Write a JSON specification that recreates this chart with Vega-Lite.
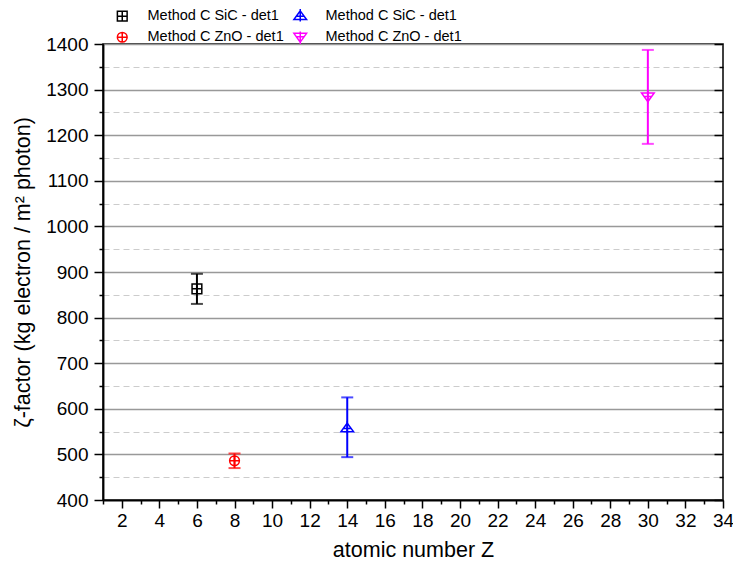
{
  "$schema": "https://vega.github.io/schema/vega-lite/v6.json",
  "width": 620,
  "height": 456,
  "autosize": "none",
  "padding": {"left": 103, "top": 44, "right": 10, "bottom": 70},
  "background": "white",
  "config": {
    "view": {"stroke": "black", "strokeWidth": 1.5},
    "font": "Liberation Sans",
    "axis": {"domainColor": "black", "domainWidth": 1.5, "tickColor": "black", "tickWidth": 1.5, "labelColor": "black", "titleColor": "black", "labelFont": "Liberation Sans", "titleFont": "Liberation Sans", "labelFontSize": 19, "titleFontSize": 21.5, "titleFontWeight": "normal", "labelOverlap": false, "labelFlush": false}
  },
  "data": {"values": [
    {"s": "k", "Z": 6, "zeta": 863, "lo": 830, "hi": 896},
    {"s": "r", "Z": 8, "zeta": 486, "lo": 470, "hi": 502},
    {"s": "b", "Z": 14, "zeta": 558, "lo": 494, "hi": 625},
    {"s": "m", "Z": 30, "zeta": 1284, "lo": 1181, "hi": 1387}
  ]},
  "resolve": {"axis": {"x": "independent", "y": "independent"}, "scale": {"color": "independent", "shape": "independent"}, "legend": {"color": "independent", "shape": "independent"}},
  "layer": [
    {
      "mark": {"type": "rule", "strokeWidth": 2},
      "encoding": {
        "x": {"field": "Z", "type": "quantitative", "scale": {"domain": [1, 34], "nice": false, "zero": false},
          "axis": {"orient": "bottom", "values": [1,3,5,7,9,11,13,15,17,19,21,23,25,27,29,31,33], "tickSize": 4, "labels": false, "grid": false, "title": null}},
        "y": {"field": "lo", "type": "quantitative", "scale": {"domain": [400, 1400], "nice": false, "zero": false},
          "axis": {"orient": "left", "values": [450,550,650,750,850,950,1050,1150,1250,1350], "tickSize": 4, "labels": false, "grid": true, "gridColor": "#cccccc", "gridDash": [6, 4], "gridWidth": 1, "title": null}},
        "y2": {"field": "hi"},
        "color": {"field": "s", "type": "nominal", "scale": {"domain": ["k","r","b","m"], "range": ["#000000","#ff0000","#0000ff","#ff00ff"]}, "legend": null}
      }
    },
    {
      "mark": {"type": "tick", "orient": "horizontal", "size": 12, "thickness": 2},
      "encoding": {
        "x": {"field": "Z", "type": "quantitative",
          "axis": {"orient": "bottom", "values": [2,4,6,8,10,12,14,16,18,20,22,24,26,28,30,32,34], "tickSize": 8, "labelPadding": 3, "grid": false, "title": "atomic number Z", "titlePadding": 9}},
        "y": {"field": "lo", "type": "quantitative",
          "axis": {"orient": "left", "format": "d", "values": [400,500,600,700,800,900,1000,1100,1200,1300,1400], "tickSize": 9, "labelPadding": 6, "grid": true, "gridColor": "#999999", "gridWidth": 1.5, "title": "ζ-factor (kg electron / m² photon)", "titlePadding": 11}},
        "color": {"field": "s", "type": "nominal", "scale": {"domain": ["k","r","b","m"], "range": ["#000000","#ff0000","#0000ff","#ff00ff"]}, "legend": null}
      }
    },
    {
      "mark": {"type": "tick", "orient": "horizontal", "size": 12, "thickness": 2},
      "encoding": {
        "x": {"field": "Z", "type": "quantitative", "axis": null},
        "y": {"field": "hi", "type": "quantitative",
          "axis": {"orient": "right", "values": [450,550,650,750,850,950,1050,1150,1250,1350], "tickSize": -4, "labels": false, "grid": false, "domain": false, "title": null}},
        "color": {"field": "s", "type": "nominal", "scale": {"domain": ["k","r","b","m"], "range": ["#000000","#ff0000","#0000ff","#ff00ff"]}, "legend": null}
      }
    },
    {
      "mark": {"type": "point", "filled": false, "strokeWidth": 1.5, "size": 95, "opacity": 1},
      "encoding": {
        "x": {"field": "Z", "type": "quantitative", "axis": null},
        "y": {"field": "zeta", "type": "quantitative",
          "axis": {"orient": "right", "values": [400,500,600,700,800,900,1000,1100,1200,1300,1400], "tickSize": -9, "labels": false, "grid": false, "domain": false, "title": null}},
        "color": {"field": "s", "type": "nominal", "scale": {"domain": ["k","r","b","m"], "range": ["#000000","#ff0000","#0000ff","#ff00ff"]},
          "legend": {"orient": "none", "legendX": 12, "legendY": -36, "columns": 2, "title": null, "labelFontSize": 14.5, "labelFont": "Liberation Sans", "labelColor": "black", "symbolSize": 95, "symbolStrokeWidth": 1.5, "labelOffset": 18, "columnPadding": 6, "rowPadding": 3,
            "labelExpr": "datum.value == 'k' || datum.value == 'b' ? 'Method C SiC - det1' : 'Method C ZnO - det1'"}},
        "shape": {"field": "s", "type": "nominal", "scale": {"domain": ["k","r","b","m"], "range": [
          "M-1,-1H1V1H-1Z M0,-1V1 M-1,0H1",
          "M-1,0A1,1,0,1,1,1,0A1,1,0,1,1,-1,0Z M0,-1V1 M-1,0H1",
          "M0,-1L1.3,0.8H-1.3Z M0,-1.4V1.2 M-0.75,0.1H0.75",
          "M0,1L1.3,-0.8H-1.3Z M0,1.4V-1.2 M-0.75,-0.1H0.75"]},
          "legend": {"orient": "none", "legendX": 12, "legendY": -36, "columns": 2, "title": null, "labelFontSize": 14.5, "labelFont": "Liberation Sans", "labelColor": "black", "symbolSize": 95, "symbolStrokeWidth": 1.5, "labelOffset": 18, "columnPadding": 6, "rowPadding": 3,
            "labelExpr": "datum.value == 'k' || datum.value == 'b' ? 'Method C SiC - det1' : 'Method C ZnO - det1'"}}
      }
    }
  ]
}
